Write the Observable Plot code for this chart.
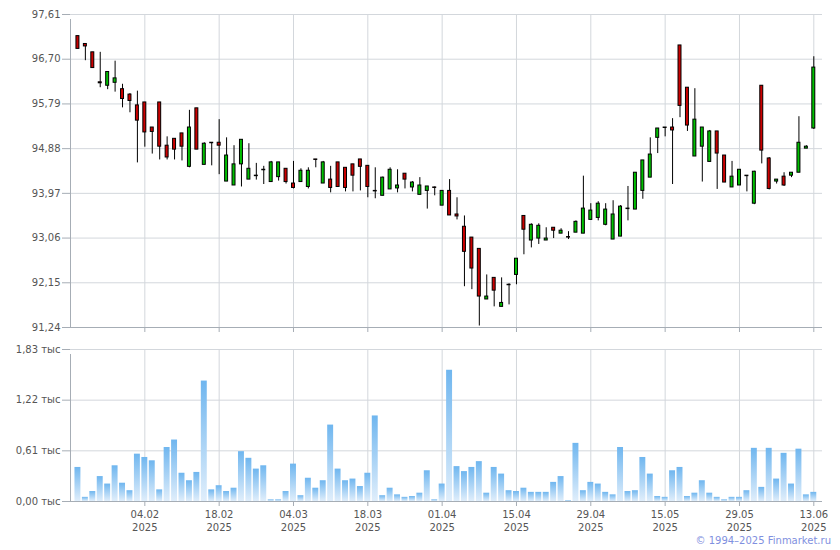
<!DOCTYPE html>
<html>
<head>
<meta charset="utf-8">
<script src="https://cdn.jsdelivr.net/npm/d3@7"></script>
<script src="https://cdn.jsdelivr.net/npm/@observablehq/plot@0.6"></script>
<style>
  html, body { margin: 0; padding: 0; background: #fff; overflow: hidden; }
  #wrap { width: 840px; }
  #wrap svg { display: block; }
  #caption { height: 16px; width: 840px; box-sizing: border-box; padding-right: 9px; text-align: right;
    font-family: "DejaVu Sans", sans-serif; font-size: 10px; line-height: 14px; color: #7f90e0; }
</style>
</head>
<body>
<div id="wrap"></div>
<div id="caption">© 1994–2025 Finmarket.ru</div>
<script>
// Trading-day candles (index 0 = first trading day shown)
const open = [97.17,97.01,96.84,96.23,96.16,96.22,96.09,95.98,95.76,95.82,
  95.31,95.82,94.94,95.08,95.19,94.51,95.70,94.55,95.00,95.00,
  94.21,94.13,94.56,94.25,94.33,94.45,94.20,94.30,94.47,94.17,
  94.20,94.10,94.66,94.17,94.25,94.60,94.49,94.56,94.66,94.53,
  94.02,93.92,94.05,94.07,94.37,94.09,93.94,94.02,94.09,93.72,
  94.02,93.54,93.29,93.07,92.84,91.81,92.25,91.66,92.11,92.31,
  93.51,93.01,93.05,93.01,93.27,93.15,93.08,93.17,93.15,93.43,
  93.47,93.33,93.03,93.09,93.66,93.64,94.02,94.29,95.10,95.31,
  95.31,96.98,96.12,94.72,94.92,94.61,95.23,94.74,94.09,94.13,
  94.33,93.76,96.16,94.68,94.21,94.31,94.33,94.39,94.88,95.29];
const close = [96.91,96.96,96.52,96.21,96.44,96.31,95.89,95.85,95.45,95.21,
  95.22,94.92,94.70,94.86,94.92,95.31,94.86,94.98,94.99,94.94,
  94.74,94.56,95.06,94.47,94.32,94.44,94.60,94.60,94.20,94.08,
  94.43,94.43,94.65,94.60,94.08,94.10,94.08,94.33,94.51,94.10,
  94.01,94.29,94.45,94.13,94.25,94.19,94.13,94.11,94.08,94.02,
  93.52,93.50,92.78,92.44,91.87,91.87,91.99,91.74,92.10,92.64,
  93.23,93.33,93.31,93.05,93.21,93.21,93.07,93.39,93.66,93.62,
  93.76,93.64,93.54,93.70,93.65,94.39,94.64,94.76,95.29,95.30,
  95.25,95.75,95.35,95.47,95.31,95.23,94.78,94.19,94.31,94.45,
  94.32,94.41,94.84,94.06,94.25,94.13,94.39,95.00,94.92,96.53];
const high = [97.17,97.01,96.84,96.84,96.44,96.66,96.19,96.00,96.05,95.82,
  95.31,95.82,95.12,95.08,95.19,95.66,95.70,95.00,95.00,95.47,
  95.10,94.94,95.06,94.98,94.58,94.52,94.62,94.60,94.47,94.62,
  94.47,94.49,94.66,94.62,94.52,94.60,94.49,94.56,94.66,94.53,
  94.49,94.30,94.49,94.45,94.37,94.21,94.29,94.11,94.10,94.02,
  94.25,93.88,93.51,93.07,92.84,92.31,92.25,92.25,92.13,92.64,
  93.51,93.35,93.35,93.27,93.27,93.25,93.19,93.41,94.32,93.76,
  93.80,93.76,93.82,93.72,94.11,94.39,94.64,95.10,95.29,95.31,
  95.49,96.98,96.12,96.10,95.31,95.25,95.23,94.74,94.62,94.45,
  94.33,94.42,96.16,94.70,94.25,94.39,94.39,95.53,94.94,96.75];
const low = [96.91,96.67,96.52,96.12,96.08,96.03,95.71,95.61,94.59,94.91,
  94.77,94.65,94.65,94.65,94.63,94.49,94.86,94.55,94.53,94.35,
  94.21,94.13,94.10,94.25,94.24,94.15,94.20,94.22,94.16,94.06,
  94.20,94.06,94.49,94.17,93.98,94.10,94.00,94.00,94.02,93.88,
  93.86,93.92,94.05,93.98,94.06,94.00,93.94,93.65,93.92,93.72,
  93.52,93.43,92.07,92.01,91.27,91.81,91.66,91.66,91.70,92.11,
  92.72,92.86,92.93,93.01,93.05,93.15,93.03,93.17,93.15,93.42,
  93.41,93.31,93.03,93.09,93.41,93.64,93.85,94.29,94.78,95.12,
  94.15,95.51,95.23,94.72,94.20,94.61,94.05,94.19,94.09,94.13,
  94.00,93.74,94.57,94.04,94.16,94.11,94.29,94.39,94.88,95.27];
// Volume, thousands
const volume = [0.41,0.05,0.12,0.30,0.21,0.43,0.22,0.13,0.57,0.53,
  0.49,0.14,0.65,0.74,0.34,0.25,0.35,1.45,0.14,0.19,
  0.12,0.16,0.60,0.52,0.39,0.43,0.02,0.02,0.12,0.45,
  0.07,0.28,0.16,0.25,0.92,0.39,0.25,0.27,0.18,0.34,
  1.03,0.07,0.16,0.08,0.05,0.06,0.10,0.37,0.02,0.21,
  1.58,0.42,0.36,0.41,0.48,0.10,0.41,0.33,0.13,0.12,
  0.16,0.11,0.11,0.11,0.23,0.30,0.01,0.70,0.13,0.23,
  0.21,0.11,0.08,0.65,0.12,0.13,0.53,0.33,0.06,0.05,
  0.37,0.41,0.06,0.10,0.25,0.10,0.05,0.02,0.05,0.05,
  0.13,0.64,0.17,0.64,0.27,0.58,0.21,0.63,0.08,0.11];
// Axis ticks
const tickIndex = [9,19,29,39,49,59,69,79,89,99];
const tickDates = ["04.02","18.02","04.03","18.03","01.04","15.04","29.04","15.05","29.05","13.06"];
const tickYear = "2025";
const priceTicks = [91.24,92.15,93.06,93.97,94.88,95.79,96.70,97.61];
const volumeTicks = [0,0.61,1.22,1.83];

const rows = d3.range(open.length).map(i => ({i, o: open[i], h: high[i], l: low[i], c: close[i], v: volume[i]}));
const bull = rows.filter(d => d.c >= d.o);
const bear = rows.filter(d => d.c < d.o);

const gridColor = "#d3d7dc";
const axisColor = "#a6adb5";
const textColor = "#555";
const xDomain = [-1, 100.17];
const fmt = d => d.toFixed(2).replace(".", ",");
const style = {fontFamily: "DejaVu Sans, sans-serif", fontSize: "10px", color: textColor, background: "white", overflow: "visible"};

const price = Plot.plot({
  width: 840, height: 335,
  marginLeft: 70, marginRight: 18, marginTop: 14, marginBottom: 8,
  x: {domain: xDomain, label: null},
  y: {domain: [91.24, 97.61], label: null},
  style,
  marks: [
    Plot.ruleY(priceTicks, {stroke: gridColor}),
    Plot.ruleX(tickIndex, {stroke: gridColor}),
    Plot.axisY({ticks: priceTicks, tickFormat: fmt, tickSize: 8, tickPadding: 2, stroke: axisColor, fill: textColor, label: null}),
    Plot.axisX({ticks: tickIndex, tickFormat: () => "", tickSize: 5, stroke: axisColor, label: null}),
    Plot.ruleY([91.24], {stroke: axisColor}),
    Plot.ruleX([xDomain[0]], {y1: 91.24, y2: 97.61, stroke: axisColor, insetBottom: -5}),
    Plot.ruleX(rows, {x: "i", y1: "l", y2: "h", stroke: "#000", strokeWidth: 1}),
    Plot.rect(bull, {x1: d => d.i - 0.2, x2: d => d.i + 0.2, y1: "o", y2: "c", fill: "#00c000", stroke: "#000", strokeWidth: 1}),
    Plot.rect(bear, {x1: d => d.i - 0.2, x2: d => d.i + 0.2, y1: "o", y2: "c", fill: "#cc0000", stroke: "#000", strokeWidth: 1})
  ]
});

const labelOf = new Map(tickIndex.map((t, k) => [t, tickDates[k] + "\n" + tickYear]));

const vol = Plot.plot({
  width: 840, height: 199,
  marginLeft: 70, marginRight: 18, marginTop: 14, marginBottom: 33,
  x: {domain: xDomain, label: null},
  y: {domain: [0, 1.83], label: null},
  style,
  marks: [
    Plot.ruleY(volumeTicks, {stroke: gridColor}),
    Plot.ruleX(tickIndex, {stroke: gridColor}),
    Plot.rectY(rows, {x1: d => d.i - 0.4, x2: d => d.i + 0.4, y: "v", fill: "url(#volgrad)"}),
    Plot.axisY({ticks: volumeTicks, tickFormat: d => fmt(d) + " тыс", tickSize: 8, tickPadding: 2, stroke: axisColor, fill: textColor, label: null}),
    Plot.axisX({ticks: tickIndex, tickFormat: d => labelOf.get(d), tickSize: 5, tickPadding: 3, lineHeight: 1.25, stroke: axisColor, fill: textColor, label: null}),
    Plot.ruleY([0], {stroke: axisColor}),
    Plot.ruleX([xDomain[0]], {y1: 0, y2: 1.83, stroke: axisColor, insetBottom: -5})
  ]
});

const defs = d3.select(vol).insert("defs", ":first-child");
const g = defs.append("linearGradient").attr("id", "volgrad").attr("x1", 0).attr("y1", 0).attr("x2", 0).attr("y2", 1);
g.append("stop").attr("offset", "0%").attr("stop-color", "#6fb6ef");
g.append("stop").attr("offset", "100%").attr("stop-color", "#e0eefb");

const wrap = document.getElementById("wrap");
wrap.appendChild(price);
wrap.appendChild(vol);
</script>
</body>
</html>
